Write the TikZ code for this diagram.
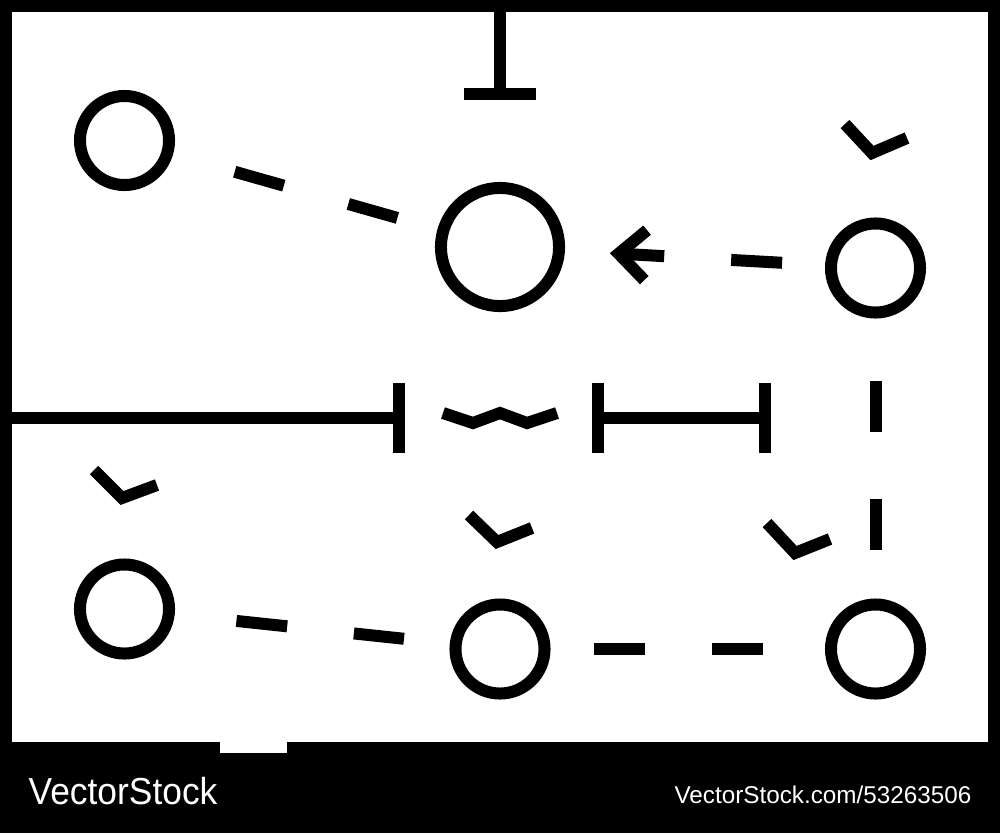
\documentclass[tikz,border=0pt]{standalone}
\usepackage{fontspec}
\setmainfont{Liberation Sans}
\usetikzlibrary{arrows.meta}
\tikzset{
  spot/.style={draw, circle, line width=0.12cm, minimum size=0.89cm, inner sep=0pt},
  hubspot/.style={spot, minimum size=1.18cm},
  dashes/.style={line width=0.12cm, dash pattern=on 0.51cm off 0.67cm},
  stroke/.style={line width=0.12cm, line join=miter},
  tick/.style={stroke},
}

\begin{document}
\begin{tikzpicture}[x=0.01cm,y=-0.01cm]

  % board
  \fill[black] (0,0) rectangle (1000,833);
  \fill[white] (12,12) rectangle (988,742);
  \fill[white] (220,740) rectangle (287,753);

  % players
  \node[spot]    (tl)  at (124.5,140.5) {};
  \node[hubspot] (hub) at (500,247) {};
  \node[spot]    (tr)  at (875.5,268) {};
  \node[spot]    (bl)  at (124.5,609) {};
  \node[spot]    (bm)  at (500,649) {};
  \node[spot]    (br)  at (875.5,649) {};

  % passes
  \draw[dashes, shorten <=0.64cm, shorten >=0.41cm] (tl) -- (hub);
  \draw[dashes, -{Straight Barb[length=0.27cm,width=0.5cm]}, shorten <=0.43cm, shorten >=0.45cm] (tr) -- (hub);
  \draw[dashes, shorten <=0.62cm, shorten >=0.47cm] (tr) -- (br);
  \draw[dashes, shorten <=0.62cm, shorten >=0.46cm] (bl) -- (bm);
  \draw[dashes, shorten <=0.43cm, shorten >=0.62cm] (bm) -- (br);

  % walls and bars
  \coordinate (topin) at (500,6);
  \coordinate (tee)   at (500,100);
  \coordinate (wall)  at (12,418);
  \coordinate (stopL) at (405,418);
  \coordinate (barA)  at (592,418);
  \coordinate (barB)  at (771,418);
  \draw[stroke, -{Bar[width=0.71cm]}] (topin) -- (tee);
  \draw[stroke, -{Bar[width=0.69cm]}] (wall) -- (stopL);
  \draw[stroke, {Bar[width=0.69cm]}-{Bar[width=0.69cm]}] (barA) -- (barB);

  % wave
  \draw[stroke] (443,413) -- (473,423) -- (500,413) -- (527,423) -- (557,413);

  % runs
  \draw[tick] (845,124) -- (872,153) -- (907,138);
  \draw[tick] (94,470) -- (122,498) -- (157,485);
  \draw[tick] (469,515) -- (497,542) -- (532,528);
  \draw[tick] (767,523) -- (795,553) -- (830,539);

  % credits
  \node[white, anchor=base west, inner sep=0pt, xscale=0.94, font=\fontsize{10.7}{12}\selectfont] (logo) at (28,804) {VectorStock};
  \node[white, anchor=base east, inner sep=0pt, font=\fontsize{6.9}{8}\selectfont] (ref) at (972,803) {VectorStock.com/53263506};

\end{tikzpicture}
\end{document}
